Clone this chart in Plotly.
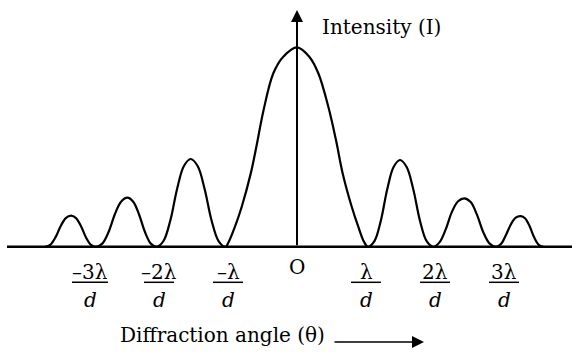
import plotly.graph_objects as go

# Diffraction pattern of a single slit: intensity against angle.
# Angle is measured in units of lambda/d, intensity relative to the central maximum.
theta = [
    # third order (left)
    -3.652, -3.577, -3.501, -3.426, -3.351, -3.275, -3.203, -3.130, -3.058, -2.986,
    # second order (left)
    -2.913, -2.822, -2.731, -2.641, -2.550, -2.459, -2.374, -2.289, -2.203, -2.118,
    # first order (left)
    -2.033, -1.935, -1.836, -1.738, -1.639, -1.541, -1.440, -1.339, -1.238, -1.137,
    # central maximum
    -1.036, -0.996, -0.899, -0.801, -0.670, -0.584, -0.488, -0.343, -0.199, 0.000,
    0.178, 0.309, 0.454, 0.565, 0.662, 0.793, 0.888, 0.971,
    # first order (right)
    1.029, 1.122, 1.215, 1.307, 1.400, 1.493, 1.589, 1.686, 1.782, 1.879,
    # second order (right)
    1.975, 2.065, 2.155, 2.245, 2.335, 2.425, 2.517, 2.609, 2.700, 2.792,
    # third order (right)
    2.884, 2.956, 3.027, 3.099, 3.170, 3.242, 3.308, 3.373, 3.439, 3.504, 3.570,
]
intensity = [
    0.000, 0.010, 0.047, 0.103, 0.144, 0.156, 0.144, 0.103, 0.047, 0.010,
    0.000, 0.016, 0.074, 0.162, 0.226, 0.246, 0.226, 0.162, 0.074, 0.016,
    0.000, 0.029, 0.132, 0.290, 0.405, 0.440, 0.405, 0.290, 0.132, 0.029,
    0.000, 0.020, 0.101, 0.201, 0.368, 0.510, 0.680, 0.870, 0.953, 1.000,
    0.953, 0.870, 0.702, 0.535, 0.368, 0.201, 0.101, 0.025,
    0.000, 0.028, 0.131, 0.287, 0.400, 0.435, 0.400, 0.287, 0.131, 0.028,
    0.000, 0.022, 0.087, 0.175, 0.228, 0.243, 0.224, 0.160, 0.073, 0.016,
    0.000, 0.014, 0.058, 0.112, 0.146, 0.154, 0.142, 0.102, 0.046, 0.010, 0.000,
]

# Positions of the marked minima (multiples of lambda/d) and their labels
tick_vals = [-3, -2, -1, 1, 2, 3]
tick_numerators = ["\u20133\u03bb", "\u20132\u03bb", "\u2013\u03bb", "\u03bb", "2\u03bb", "3\u03bb"]
tick_denominator = "<i>d</i>"
origin_label = "O"
y_title = "Intensity (I)"
x_title = "Diffraction angle (\u03b8)"

W, H = 572, 356
PX_PER_UNIT = 69.0          # horizontal pixels per lambda/d
X0_PX = 297.0               # pixel column of the intensity axis
BASE_PX = 246.8             # pixel row of the angle axis
PX_PER_I = 199.5            # vertical pixels per unit intensity

def xd(px):
    return (px - X0_PX) / PX_PER_UNIT

def yd(py):
    return (BASE_PX - py) / PX_PER_I

FONT = "DejaVu Serif"
FS = 20

fig = go.Figure()
fig.add_trace(go.Scatter(
    x=theta, y=intensity, mode="lines",
    line=dict(color="black", width=2.2, shape="spline", smoothing=1.0),
    hoverinfo="skip", showlegend=False))

shapes = []
annotations = []

# Horizontal (angle) axis
shapes.append(dict(type="line", xref="x", yref="y", x0=xd(7), x1=xd(W + 2), y0=0, y1=0,
                   line=dict(color="black", width=2.5)))

# Vertical (intensity) axis with arrow
annotations.append(dict(x=0, y=yd(10), ax=0, ay=0, xref="x", yref="y", axref="x", ayref="y",
                        text="", showarrow=True, arrowhead=2, arrowsize=1.2, arrowwidth=2,
                        arrowcolor="black", standoff=0))
annotations.append(dict(x=xd(320), y=yd(27), xref="x", yref="y", text=y_title,
                        showarrow=False, xanchor="left", yanchor="middle",
                        font=dict(family=FONT, size=FS, color="black")))

# Origin
annotations.append(dict(x=0, y=yd(266.5), xref="x", yref="y", text=origin_label,
                        showarrow=False, xanchor="center", yanchor="middle",
                        font=dict(family=FONT, size=FS, color="black")))

# Fraction tick labels: numerator, bar, denominator
bar_half_px = [18, 15, 15, 15, 15, 15]
for v, num, hw in zip(tick_vals, tick_numerators, bar_half_px):
    annotations.append(dict(x=v, y=yd(271.5), xref="x", yref="y", text=num,
                            showarrow=False, xanchor="center", yanchor="middle",
                            font=dict(family=FONT, size=FS, color="black")))
    annotations.append(dict(x=v, y=yd(299.5), xref="x", yref="y", text=tick_denominator,
                            showarrow=False, xanchor="center", yanchor="middle",
                            font=dict(family=FONT, size=FS, color="black")))
    shapes.append(dict(type="line", xref="x", yref="y",
                       x0=v - hw / PX_PER_UNIT, x1=v + hw / PX_PER_UNIT,
                       y0=yd(282.3), y1=yd(282.3), line=dict(color="black", width=1.5)))

# Angle axis title with arrow
annotations.append(dict(x=xd(327), y=yd(335), xref="x", yref="y", text=x_title,
                        showarrow=False, xanchor="right", yanchor="middle",
                        font=dict(family=FONT, size=FS, color="black")))
annotations.append(dict(x=xd(424), y=yd(342), ax=xd(333), ay=yd(342),
                        xref="x", yref="y", axref="x", ayref="y",
                        text="", showarrow=True, arrowhead=2, arrowsize=1.6, arrowwidth=1.5,
                        arrowcolor="black", standoff=0))

fig.update_layout(
    width=W, height=H, autosize=False,
    margin=dict(l=0, r=0, t=0, b=0, pad=0),
    paper_bgcolor="white", plot_bgcolor="white",
    xaxis=dict(range=[xd(0), xd(W)], visible=False, fixedrange=True),
    yaxis=dict(range=[yd(H), yd(0)], visible=False, fixedrange=True),
    shapes=shapes, annotations=annotations,
)

fig.write_html("out.html")
